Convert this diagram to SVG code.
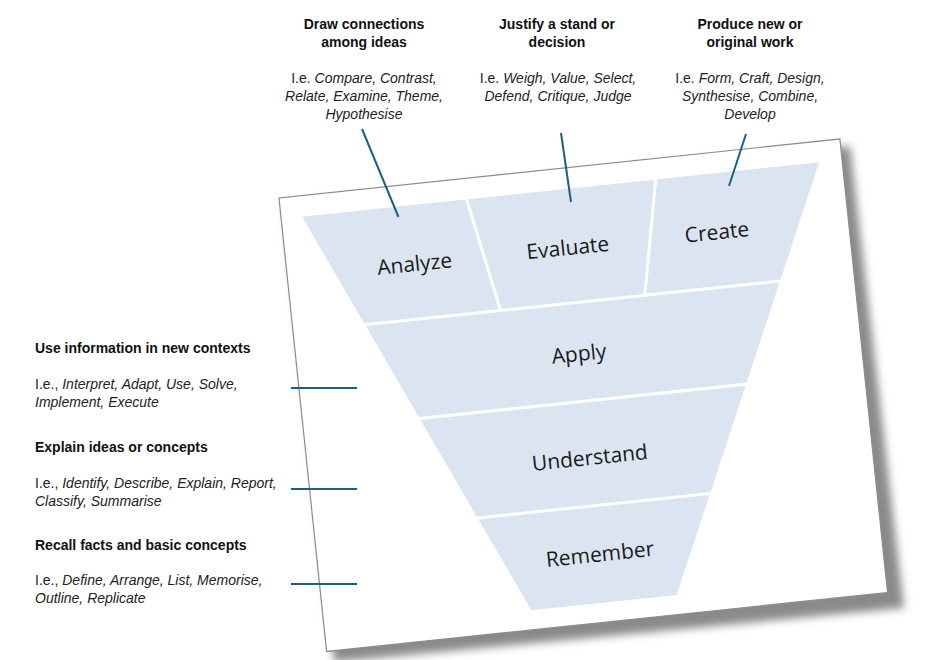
<svg xmlns="http://www.w3.org/2000/svg" width="926" height="660" viewBox="0 0 926 660">
  <defs>
    <filter id="blur" x="-10%" y="-10%" width="120%" height="120%">
      <feGaussianBlur stdDeviation="4"/>
    </filter>
    <style>
      .card { fill: #ffffff; stroke: #8c8c8c; stroke-width: 1.2; }
      .level { fill: #dbe5f1; }
      .lvl-text { font-family: "Open Sans", "Noto Sans", sans-serif; font-size: 21px; fill: #1a1a1a; text-anchor: middle; }
      .head { font-family: "Liberation Sans", Arial, sans-serif; font-size: 14px; font-weight: bold; fill: #111111; }
      .desc { font-family: "Liberation Sans", Arial, sans-serif; font-size: 14px; fill: #222222; }
      .desc tspan.it { font-style: italic; }
      .mid { text-anchor: middle; }
      .conn { stroke: #1d5f80; stroke-width: 2; fill: none; }
    </style>
  </defs>

  <rect width="926" height="660" fill="#ffffff"/>

  <!-- card with shadow -->
  <g id="card">
    <polygon points="285,204 850,146 904,608 334,662" fill="#8a8a8a" filter="url(#blur)"/>
    <g transform="translate(583.25,395.25) rotate(-6)">
      <rect class="card" x="-282" y="-228" width="564" height="456"/>
    </g>
  </g>

  <!-- pyramid levels -->
  <g transform="translate(583.25,395.25) rotate(-6)">
    <g id="analyze">
      <polygon class="level" points="-261,-207 -97,-207 -75.2,-94.5 -210.4,-94.5"/>
      <text class="lvl-text" x="-154" y="-141">Analyze</text>
    </g>
    <g id="evaluate">
      <polygon class="level" points="-94,-207 93.1,-207 70.5,-94.5 -72.2,-94.5"/>
      <text class="lvl-text" x="0" y="-141">Evaluate</text>
    </g>
    <g id="create">
      <polygon class="level" points="96.1,-207 259,-207 208.4,-94.5 73.5,-94.5"/>
      <text class="lvl-text" x="150" y="-141">Create</text>
    </g>
    <g id="apply">
      <polygon class="level" points="-209,-91.5 207,-91.5 163.8,4.5 -165.8,4.5"/>
      <text class="lvl-text" x="0" y="-34.5">Apply</text>
    </g>
    <g id="understand">
      <polygon class="level" points="-164.5,7.5 162.5,7.5 116.6,109.5 -118.6,109.5"/>
      <text class="lvl-text" x="0" y="70">Understand</text>
    </g>
    <g id="remember">
      <polygon class="level" points="-117.2,112.5 115.2,112.5 72,208.5 -74,208.5"/>
      <text class="lvl-text" x="0" y="167">Remember</text>
    </g>
  </g>

  <!-- annotation labels -->
  <g id="label-analyze">
    <text class="head mid" x="364" y="29">Draw connections</text>
    <text class="head mid" x="364" y="47">among ideas</text>
    <text class="desc mid" x="364" y="83">I.e. <tspan class="it">Compare, Contrast,</tspan></text>
    <text class="desc mid" x="364" y="101"><tspan class="it">Relate, Examine, Theme,</tspan></text>
    <text class="desc mid" x="364" y="119"><tspan class="it">Hypothesise</tspan></text>
  </g>
  <g id="label-evaluate">
    <text class="head mid" x="557" y="29">Justify a stand or</text>
    <text class="head mid" x="557" y="47">decision</text>
    <text class="desc mid" x="558" y="83">I.e. <tspan class="it">Weigh, Value, Select,</tspan></text>
    <text class="desc mid" x="558" y="101"><tspan class="it">Defend, Critique, Judge</tspan></text>
  </g>
  <g id="label-create">
    <text class="head mid" x="750" y="29">Produce new or</text>
    <text class="head mid" x="750" y="47">original work</text>
    <text class="desc mid" x="750" y="83">I.e. <tspan class="it">Form, Craft, Design,</tspan></text>
    <text class="desc mid" x="750" y="101"><tspan class="it">Synthesise, Combine,</tspan></text>
    <text class="desc mid" x="750" y="119"><tspan class="it">Develop</tspan></text>
  </g>
  <g id="label-apply">
    <text class="head" x="35" y="353">Use information in new contexts</text>
    <text class="desc" x="35" y="389">I.e., <tspan class="it">Interpret, Adapt, Use, Solve,</tspan></text>
    <text class="desc" x="35" y="407"><tspan class="it">Implement, Execute</tspan></text>
  </g>
  <g id="label-understand">
    <text class="head" x="35" y="452">Explain ideas or concepts</text>
    <text class="desc" x="35" y="488">I.e., <tspan class="it">Identify, Describe, Explain, Report,</tspan></text>
    <text class="desc" x="35" y="506"><tspan class="it">Classify, Summarise</tspan></text>
  </g>
  <g id="label-remember">
    <text class="head" x="35" y="550">Recall facts and basic concepts</text>
    <text class="desc" x="35" y="585">I.e., <tspan class="it">Define, Arrange, List, Memorise,</tspan></text>
    <text class="desc" x="35" y="603"><tspan class="it">Outline, Replicate</tspan></text>
  </g>

  <!-- connectors -->
  <g id="connectors">
    <line class="conn" x1="362" y1="129" x2="398.5" y2="217"/>
    <line class="conn" x1="561" y1="133" x2="571" y2="202"/>
    <line class="conn" x1="746" y1="134" x2="729" y2="186"/>
    <line class="conn" x1="291" y1="388" x2="357" y2="388"/>
    <line class="conn" x1="291" y1="489" x2="357" y2="489"/>
    <line class="conn" x1="291" y1="584" x2="357" y2="584"/>
  </g>
</svg>
